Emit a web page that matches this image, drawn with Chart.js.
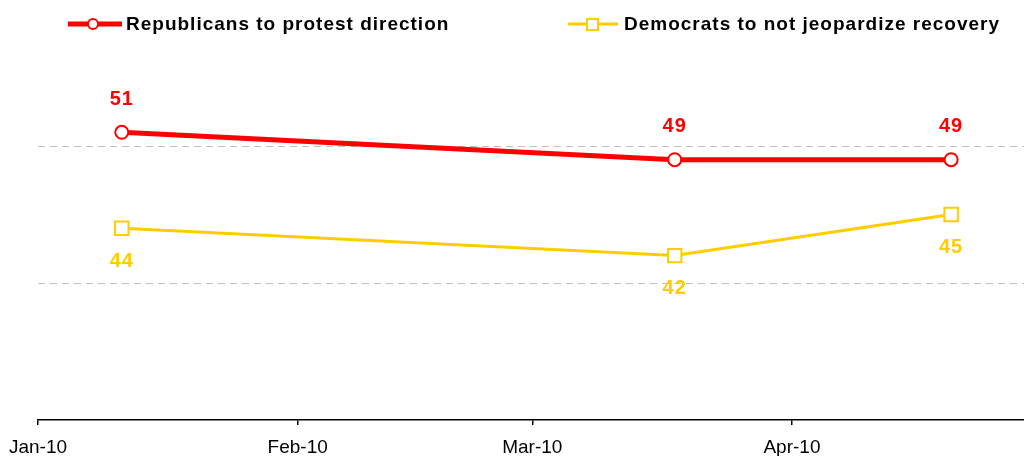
<!DOCTYPE html>
<html>
<head>
<meta charset="utf-8">
<script src="https://cdn.jsdelivr.net/npm/chart.js@4.4.0/dist/chart.umd.min.js"></script>
<style>
  body { margin: 0; background: #fff; overflow: hidden; }
  canvas { display: block; }
</style>
</head>
<body>
<canvas id="chart" width="1024" height="456"></canvas>
<script>
// days counted from Jan 1 2010
var monthDays = [0, 31, 59, 90];
var monthLabels = ["Jan-10", "Feb-10", "Mar-10", "Apr-10"];
var surveyDays = [10, 76, 109];
var republicans = [51, 49, 49];
var democrats = [44, 42, 45];
var seriesNames = ["Republicans to protest direction", "Democrats to not jeopardize recovery"];

var RED = "#ff0000";
var YELLOW = "#ffcc00";

function toPoints(vals){
    return vals.map(function(v, i){ return {x: surveyDays[i], y: v}; });
}

// value labels above / below points
var valueLabels = {
    id: "valueLabels",
    afterDatasetsDraw: function(chart){
        var ctx = chart.ctx;
        ctx.save();
        ctx.font = "bold 20px 'Liberation Sans', Arial, sans-serif";
        ctx.letterSpacing = "1px";
        ctx.textAlign = "center";
        ctx.textBaseline = "middle";
        chart.data.datasets.forEach(function(ds, di){
            var meta = chart.getDatasetMeta(di);
            ctx.fillStyle = ds.borderColor;
            meta.data.forEach(function(pt, i){
                var off = di == 0 ? -33 : 33;
                ctx.fillText(ds.data[i].y, pt.x, pt.y + off);
            });
        });
        ctx.restore();
    }
};

// legend with line + marker like the original
var lineLegend = {
    id: "lineLegend",
    afterDraw: function(chart){
        var ctx = chart.ctx;
        ctx.save();
        ctx.font = "bold 19px 'Liberation Sans', Arial, sans-serif";
        ctx.letterSpacing = "1px";
        ctx.textBaseline = "middle";
        var y = 24;
        // red
        ctx.strokeStyle = RED;
        ctx.lineWidth = 5;
        ctx.beginPath(); ctx.moveTo(68, y); ctx.lineTo(122, y); ctx.stroke();
        ctx.lineWidth = 2;
        ctx.fillStyle = "#fff";
        ctx.beginPath(); ctx.arc(93, y, 5, 0, Math.PI * 2); ctx.fill(); ctx.stroke();
        // yellow
        ctx.strokeStyle = YELLOW;
        ctx.lineWidth = 3;
        ctx.beginPath(); ctx.moveTo(568, y); ctx.lineTo(618, y); ctx.stroke();
        ctx.lineWidth = 2;
        ctx.fillRect(587, y - 5, 11, 11);
        ctx.strokeRect(587, y - 5, 11, 11);
        ctx.fillStyle = "#000";
        ctx.fillText(seriesNames[0], 126, y + 1);
        ctx.fillText(seriesNames[1], 624, y + 1);
        ctx.restore();
    }
};

var config = {
    type: "line",
    data: {
        datasets: [{
            label: seriesNames[0],
            data: toPoints(republicans),
            borderColor: RED,
            borderWidth: 5,
            pointStyle: "circle",
            pointRadius: 6.5,
            pointBorderWidth: 2,
            pointBackgroundColor: "#fff",
            pointBorderColor: RED,
            tension: 0
        }, {
            label: seriesNames[1],
            data: toPoints(democrats),
            borderColor: YELLOW,
            borderWidth: 3,
            pointStyle: "rect",
            pointRadius: 9.5,
            pointBorderWidth: 2,
            pointBackgroundColor: "#fff",
            pointBorderColor: YELLOW,
            tension: 0
        }]
    },
    options: {
        responsive: false,
        animation: false,
        layout: { autoPadding: false, padding: { left: 38, right: 0, top: 9, bottom: 0 } },
        plugins: {
            legend: { display: false },
            tooltip: { enabled: false }
        },
        scales: {
            x: {
                type: "linear",
                min: 0,
                max: 117.7,
                afterBuildTicks: function(s){
                    s.ticks = monthDays.map(function(d){ return {value: d}; });
                },
                afterFit: function(s){
                    s.paddingRight = 0;
                    s.paddingLeft = 0;
                    s.height = 36;
                },
                ticks: {
                    callback: function(v){
                        var i = monthDays.indexOf(v);
                        return i >= 0 ? monthLabels[i] : "";
                    },
                    font: { family: "'Liberation Sans', Arial, sans-serif", size: 19 },
                    color: "#000",
                    maxRotation: 0,
                    autoSkip: false,
                    padding: 11
                },
                grid: { drawOnChartArea: false, drawTicks: true, tickLength: 5, color: "#000", lineWidth: 1.5 },
                border: { color: "#000", width: 1.5 }
            },
            y: {
                min: 30,
                max: 60,
                ticks: { stepSize: 10, display: false },
                afterFit: function(s){ s.width = 0; },
                grid: {
                    drawTicks: false,
                    color: function(c){
                        var v = c.tick && c.tick.value;
                        return (v == 40 || v == 50) ? "#c0c0c0" : "rgba(0,0,0,0)";
                    },
                    lineWidth: 1
                },
                border: { display: false, dash: [7, 5] }
            }
        }
    },
    plugins: [valueLabels, lineLegend]
};

var chart = new Chart(document.getElementById("chart"), config);
</script>
</body>
</html>
